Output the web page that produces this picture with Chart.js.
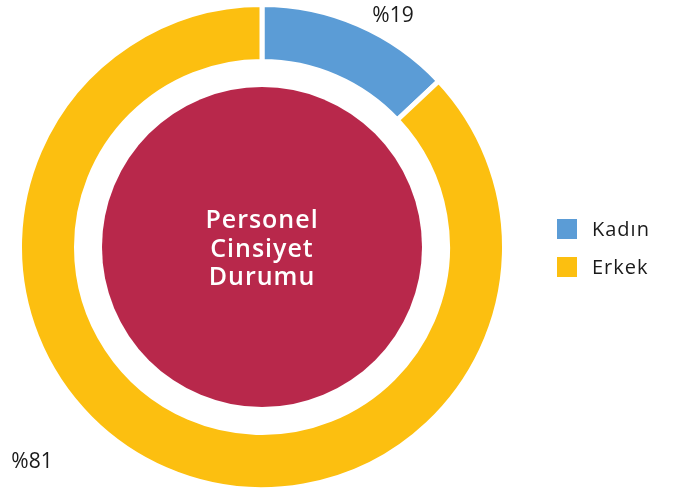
<!DOCTYPE html>
<html>
<head>
<meta charset="utf-8">
<script src="https://cdn.jsdelivr.net/npm/chart.js@4/dist/chart.umd.min.js"></script>
<style>
    html, body { margin: 0; padding: 0; background: #ffffff; }
    #wrap { width: 675px; height: 492px; }
</style>
</head>
<body>
<div id="wrap"><canvas id="grafik"></canvas></div>
<script>
// Veriler
const kategoriler = ['Kadın', 'Erkek'];
const degerler = [13, 87];
const yuzdeEtiketleri = ['%19', '%81'];
const renkler = ['#5b9cd6', '#fcbf10'];
const merkezMetni = ['Personel', 'Cinsiyet', 'Durumu'];

// Ortadaki kırmızı daire ve yazı
const merkezPlugin = {
    id: 'merkez',
    beforeDatasetsDraw(chart) {
        const arc = chart.getDatasetMeta(0).data[0];
        const ctx = chart.ctx;
        ctx.save();
        ctx.beginPath();
        ctx.arc(arc.x, arc.y, arc.innerRadius - 25.5, 0, Math.PI * 2);
        ctx.fillStyle = '#b8284b';
        ctx.fill();
        ctx.fillStyle = '#ffffff';
        ctx.font = '600 25px "Open Sans"';
        ctx.textAlign = 'center';
        ctx.textBaseline = 'alphabetic';
        ctx.letterSpacing = '1px';
        merkezMetni.forEach((satir, i) => {
            ctx.fillText(satir, arc.x, arc.y - 19 + i * 28.5);
        });
        ctx.restore();
    },
    afterDraw(chart) {
        const arc = chart.getDatasetMeta(0).data[0];
        const ctx = chart.ctx;
        ctx.save();
        // Yüzde etiketleri
        ctx.fillStyle = '#1a1a1a';
        ctx.font = '400 21px "Open Sans"';
        ctx.textAlign = 'center';
        ctx.fillText(yuzdeEtiketleri[0], arc.x + 131, arc.y - 225);
        ctx.fillText(yuzdeEtiketleri[1], arc.x - 230, arc.y + 221);
        // Lejant
        ctx.textAlign = 'left';
        ctx.textBaseline = 'middle';
        ctx.font = '400 20px "Open Sans"';
        ctx.letterSpacing = '1px';
        kategoriler.forEach((ad, i) => {
            const y = 219 + i * 38;
            ctx.fillStyle = renkler[i];
            ctx.fillRect(557, y, 20, 20);
            ctx.fillStyle = '#1a1a1a';
            ctx.fillText(ad, 592, y + 11);
        });
        ctx.restore();
    }
};

new Chart(document.getElementById('grafik'), {
    type: 'doughnut',
    data: {
        labels: kategoriler,
        datasets: [{
            data: degerler,
            backgroundColor: renkler,
            borderColor: '#ffffff',
            borderWidth: 5,
            hoverOffset: 0
        }]
    },
    options: {
        responsive: true,
        maintainAspectRatio: false,
        animation: false,
        cutout: '76.5%',
        layout: {
            padding: { left: 17, right: 168, top: 2, bottom: 0 }
        },
        plugins: {
            legend: { display: false },
            tooltip: { enabled: false }
        }
    },
    plugins: [merkezPlugin]
});
</script>
</body>
</html>
